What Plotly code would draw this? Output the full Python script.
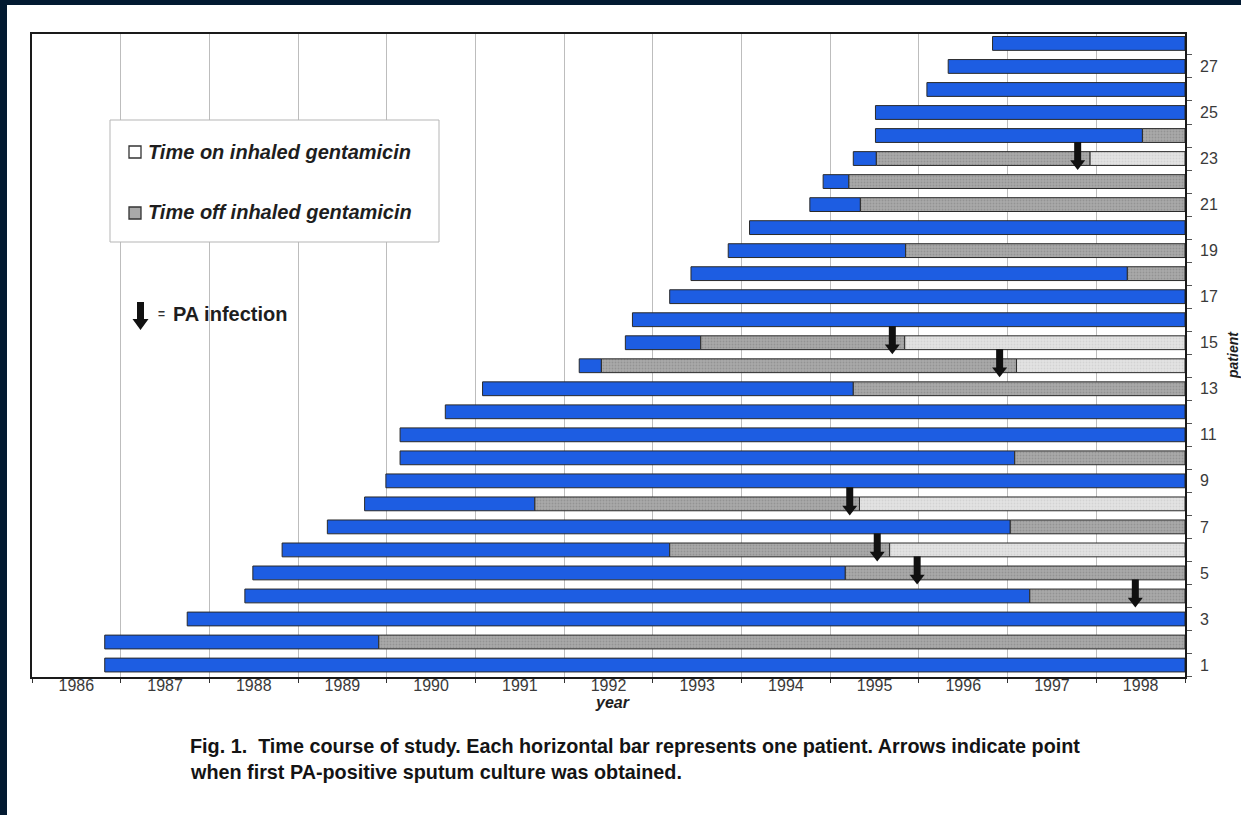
import plotly.graph_objects as go

# ---- study timeline per patient (years, decimal) ----
patients = list(range(1, 29))
enrolled = [1986.82, 1986.82, 1987.75, 1988.40, 1988.49, 1988.82, 1989.33, 1989.75,
            1989.99, 1990.15, 1990.15, 1990.66, 1991.08, 1992.17, 1992.69, 1992.77,
            1993.19, 1993.43, 1993.85, 1994.09, 1994.77, 1994.92, 1995.26, 1995.51,
            1995.51, 1996.09, 1996.33, 1996.83]
off_gentamicin = [None, 1989.91, None, 1997.25, 1995.17, 1993.19, 1997.03, 1991.67,
                  None, 1997.08, None, None, 1995.26, 1992.42, 1993.54, None,
                  None, 1998.35, 1995.85, None, 1995.34, 1995.21, 1995.52, 1998.52,
                  None, None, None, None]
on_gentamicin = [None, None, None, None, None, 1995.67, None, 1995.33,
                 None, None, None, None, None, 1997.10, 1995.84, None,
                 None, None, None, None, None, None, 1997.93, None,
                 None, None, None, None]
pa_infection = [None, None, None, 1998.44, 1995.98, 1995.53, None, 1995.22,
                None, None, None, None, None, 1996.91, 1995.70, None,
                None, None, None, None, None, None, 1997.79, None,
                None, None, None, None]
study_end = 1999.0

years = list(range(1986, 1999))
year_labels = [str(y) for y in years]
patient_ticks = list(range(1, 29, 2))

# ---- page geometry ----
W, H = 1241, 815
PL, PR, PT, PB = 32, 1185, 34, 677


def px(x):
    return (x - PL) / (PR - PL)


def py(y):
    return (PB - y) / (PB - PT)


BLUE = "#1d5de2"
GREY = "#a9a9a9"
LIGHT = "#e3e3e3"
EDGE = "#2a2a2a"

# segment lengths
blue_len, grey_base, grey_len, grey_y = [], [], [], []
light_base, light_len, light_y = [], [], []
for p, s, off, on in zip(patients, enrolled, off_gentamicin, on_gentamicin):
    nxt = off if off is not None else (on if on is not None else study_end)
    blue_len.append(nxt - s)
    if off is not None:
        g_end = on if on is not None else study_end
        grey_base.append(off)
        grey_len.append(g_end - off)
        grey_y.append(p)
    if on is not None:
        light_base.append(on)
        light_len.append(study_end - on)
        light_y.append(p)

fig = go.Figure()

fig.add_trace(go.Bar(
    y=patients, x=blue_len, base=enrolled, orientation="h", width=0.6,
    marker=dict(color=BLUE, line=dict(color=EDGE, width=1)),
    name="Study period", showlegend=False, hoverinfo="skip"))

fig.add_trace(go.Bar(
    y=grey_y, x=grey_len, base=grey_base, orientation="h", width=0.6,
    marker=dict(color=GREY, line=dict(color=EDGE, width=1),
                pattern=dict(shape=".", fillmode="overlay", fgcolor="#7d7d7d",
                             size=3, solidity=0.3)),
    name="Time off inhaled gentamicin", showlegend=False, hoverinfo="skip"))

fig.add_trace(go.Bar(
    y=light_y, x=light_len, base=light_base, orientation="h", width=0.6,
    marker=dict(color=LIGHT, line=dict(color=EDGE, width=1),
                pattern=dict(shape=".", fillmode="overlay", fgcolor="#c4c4c4",
                             size=3, solidity=0.3)),
    name="Time on inhaled gentamicin", showlegend=False, hoverinfo="skip"))

# PA infection arrows: shaft + head
ax_x, ax_y, head_x, head_y = [], [], [], []
for p, a in zip(patients, pa_infection):
    if a is None:
        continue
    ax_x += [a, a, None]
    ax_y += [p + 0.72, p - 0.2, None]
    head_x.append(a)
    head_y.append(p - 0.22)

fig.add_trace(go.Scatter(x=ax_x, y=ax_y, mode="lines",
                         line=dict(color="#111", width=7),
                         showlegend=False, hoverinfo="skip"))
fig.add_trace(go.Scatter(x=head_x, y=head_y, mode="markers",
                         marker=dict(symbol="triangle-down", size=13, color="#111",
                                     line=dict(width=0)),
                         showlegend=False, hoverinfo="skip"))

shapes = [
    # white page on the dark backdrop
    dict(type="rect", xref="paper", yref="paper", layer="below",
         x0=px(7), x1=px(W + 5), y0=py(H + 5), y1=py(5),
         fillcolor="white", line=dict(width=0)),
    # legend box
    dict(type="rect", xref="paper", yref="paper", layer="above",
         x0=px(110), x1=px(439), y0=py(242), y1=py(120),
         fillcolor="white", line=dict(color="#b5b5b5", width=1)),
    dict(type="rect", xref="paper", yref="paper", layer="above",
         x0=px(129), x1=px(141), y0=py(158), y1=py(146),
         fillcolor="white", line=dict(color="#333", width=1.3)),
    dict(type="rect", xref="paper", yref="paper", layer="above",
         x0=px(129), x1=px(141), y0=py(219), y1=py(207),
         fillcolor=GREY, line=dict(color="#333", width=1.3)),
    # legend arrow for PA infection
    dict(type="path", xref="paper", yref="paper", layer="above",
         path=(f"M {px(137)},{py(302)} L {px(144)},{py(302)} L {px(144)},{py(319)} "
               f"L {px(148.5)},{py(319)} L {px(140.5)},{py(330)} L {px(132.5)},{py(319)} "
               f"L {px(137)},{py(319)} Z"),
         fillcolor="#111", line=dict(width=0)),
]

legend_font = dict(family="Liberation Sans, Arial, sans-serif", size=20, color="#1e1e1e")
caption_font = dict(family="Liberation Sans Narrow, Arial Narrow, sans-serif", size=19.8,
                    color="#141414")
annotations = [
    dict(text="<b><i>Time on inhaled gentamicin</i></b>", x=px(146), y=py(152),
         xref="paper", yref="paper", xanchor="left", yanchor="middle",
         showarrow=False, font=legend_font),
    dict(text="<b><i>Time off inhaled gentamicin</i></b>", x=px(146), y=py(212),
         xref="paper", yref="paper", xanchor="left", yanchor="middle",
         showarrow=False, font=legend_font),
    dict(text="<b>=</b>", x=px(156), y=py(314), xref="paper", yref="paper",
         xanchor="left", yanchor="middle", showarrow=False,
         font=dict(family="Liberation Sans, Arial, sans-serif", size=12, color="#333")),
    dict(text="<b>PA infection</b>", x=px(171), y=py(314), xref="paper", yref="paper",
         xanchor="left", yanchor="middle", showarrow=False, font=legend_font),
    dict(text="<b><i>year</i></b>", x=px(612), y=py(702), xref="paper", yref="paper",
         xanchor="center", yanchor="middle", showarrow=False,
         font=dict(family="Liberation Sans, Arial, sans-serif", size=16, color="#1e1e1e")),
    dict(text="<b><i>patient</i></b>", x=px(1233), y=py(355), xref="paper", yref="paper",
         xanchor="center", yanchor="middle", showarrow=False, textangle=-90,
         font=dict(family="Liberation Sans, Arial, sans-serif", size=14, color="#1e1e1e")),
    dict(text="<b>Fig. 1.  Time course of study. Each horizontal bar represents one patient. "
              "Arrows indicate point</b>",
         x=px(188), y=py(746), xref="paper", yref="paper", xanchor="left", yanchor="middle",
         showarrow=False, font=caption_font),
    dict(text="<b>when first PA-positive sputum culture was obtained.</b>",
         x=px(188), y=py(772), xref="paper", yref="paper", xanchor="left", yanchor="middle",
         showarrow=False, font=caption_font),
]

tick_font = dict(family="Liberation Sans, Arial, sans-serif", size=16, color="#3a3a3a")

fig.update_layout(
    width=W, height=H,
    margin=dict(l=PL, r=W - PR, t=PT, b=H - PB, pad=0),
    paper_bgcolor="#021a31",
    plot_bgcolor="white",
    barmode="overlay",
    showlegend=False,
    shapes=shapes,
    annotations=annotations,
    xaxis=dict(
        range=[1986, 1999], tickmode="array",
        tickvals=[y + 0.5 for y in years], ticktext=year_labels,
        ticks="", showgrid=False, zeroline=False,
        showline=True, linecolor="#1a1a1a", linewidth=1.6, mirror=True,
        tickfont=tick_font, ticklabelstandoff=-7,
        minor=dict(tick0=1986, dtick=1, showgrid=True, gridcolor="#bdbdbd",
                   gridwidth=1, ticks="outside", ticklen=4, tickcolor="#333"),
    ),
    yaxis=dict(
        range=[0.48, 28.41], side="right", tickmode="array",
        tickvals=patient_ticks, ticktext=[str(v) for v in patient_ticks],
        ticks="", showgrid=False, zeroline=False,
        showline=True, linecolor="#1a1a1a", linewidth=1.6, mirror=True,
        tickfont=tick_font, ticklabelstandoff=10,
        minor=dict(tick0=0.5, dtick=1, showgrid=False,
                   ticks="outside", ticklen=5, tickcolor="#555"),
    ),
)

fig.write_html("out.html")
